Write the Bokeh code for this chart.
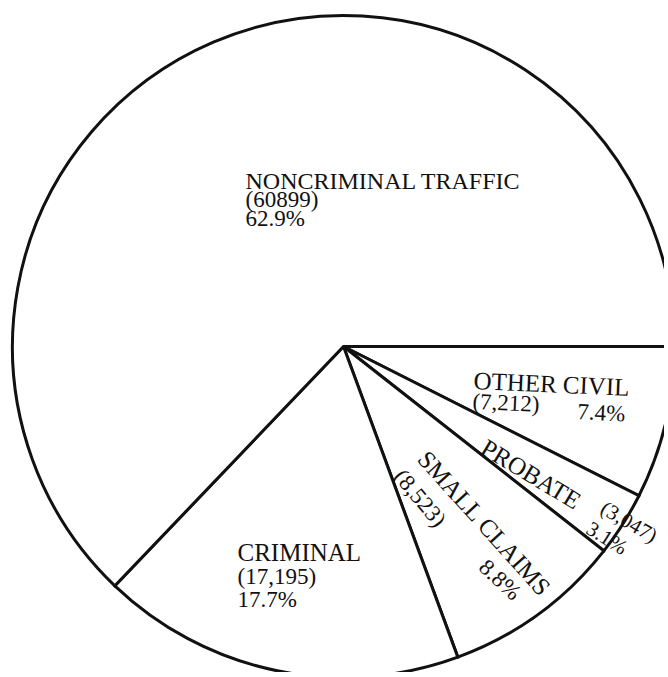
import math
from bokeh.plotting import figure
from bokeh.models import Range1d, ColumnDataSource
from bokeh.core.properties import value
from bokeh.embed import file_html
from bokeh.resources import INLINE

# ---- data (clockwise from 3 o'clock) ----
categories = ["OTHER CIVIL", "PROBATE", "SMALL CLAIMS", "CRIMINAL", "NONCRIMINAL TRAFFIC"]
counts = [7212, 3047, 8523, 17195, 60899]
count_labels = ["(7,212)", "(3,047)", "(8,523)", "(17,195)", "(60899)"]
pct_labels = ["7.4%", "3.1%", "8.8%", "17.7%", "62.9%"]

# ---- geometry (data units == screen pixels of the picture) ----
W, H = 664, 672
CX, CY, R = 343, -346, 331

total = float(sum(counts))
cum = [0.0]
for c in counts:
    cum.append(cum[-1] + c / total * 2 * math.pi)
starts = [-cum[i + 1] for i in range(len(counts))]
ends = [-cum[i] for i in range(len(counts))]

src = ColumnDataSource(dict(x=[CX] * len(counts), y=[CY] * len(counts),
                            start=starts, end=ends, cat=categories))

p = figure(width=W, height=H, x_range=Range1d(0, W), y_range=Range1d(-H, 0),
           output_backend="svg", toolbar_location=None, min_border=0,
           x_axis_location=None, y_axis_location=None)
p.grid.visible = False
p.outline_line_color = None
p.background_fill_color = "white"
p.border_fill_color = "white"

p.wedge(x="x", y="y", radius=R, start_angle="start", end_angle="end", direction="anticlock",
        fill_color="white", line_color="#111111", line_width=3, line_join="miter", source=src)

FONT = value("Liberation Serif")


def label(txt, x, y, deg=0.0, size="24px"):
    p.text(x=[x], y=[-y], text=[txt], angle=-math.radians(deg),
           text_font=FONT, text_font_size=size, text_color="#111111",
           text_align="left", text_baseline="alphabetic")


# NONCRIMINAL TRAFFIC
label(categories[4], 245, 180)
label(count_labels[4], 245, 199, size="23px")
label(pct_labels[4], 245, 218, size="23px")

# CRIMINAL
label(categories[3], 237, 552, size="25px")
label(count_labels[3], 237, 576, size="23px")
label(pct_labels[3], 237, 599, size="23px")

# OTHER CIVIL
label(categories[0], 473, 380, 2.5, size="25px")
label(count_labels[0], 472, 401, 2.5, size="23px")
label(pct_labels[0], 577, 411, 3, size="23px")

# PROBATE
label(categories[1], 483, 445, 31, size="25px")
label(count_labels[1], 602, 506, 30, size="21px")
label(pct_labels[1], 588, 526, 32, size="21px")

# SMALL CLAIMS
label(categories[2], 422, 454, 48, size="25px")
label(count_labels[2], 398, 472, 50, size="23px")
label(pct_labels[2], 482, 563, 43, size="23px")

open("out.html", "w").write(file_html(p, INLINE))
